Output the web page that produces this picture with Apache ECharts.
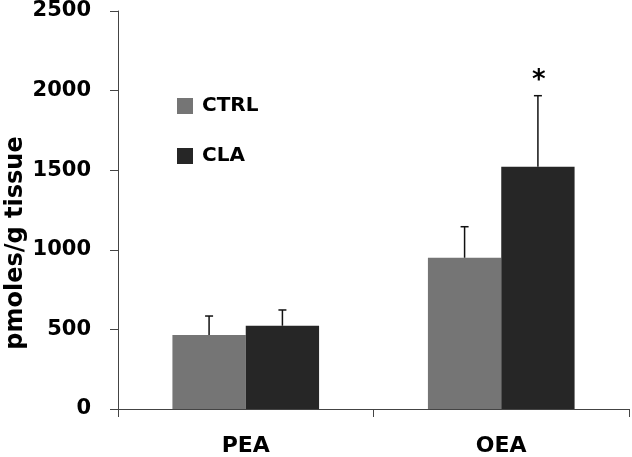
<!DOCTYPE html>
<html>
<head>
<meta charset="utf-8">
<script src="https://cdn.jsdelivr.net/npm/echarts@6/dist/echarts.min.js"></script>
<style>
html,body{margin:0;padding:0;background:#fff;}
#chart{width:632px;height:457px;}
</style>
</head>
<body>
<div id="chart"></div>
<script>
const categories = ['PEA', 'OEA'];
const seriesNames = ['CTRL', 'CLA'];
const ctrlMean = [465, 950];
const ctrlErr = [119, 195];
const claMean = [523, 1522];
const claErr = [99, 446];
const ctrlSig = ['', ''];
const claSig = ['', '*'];
const yMin = 0, yMax = 2500, yStep = 500;

const FONT = 'DejaVu Sans';
const BAR_FRAC = 0.287;
const colors = ['#757575', '#262626'];

function errorSeries(name, means, errs, sigs, side) {
  return {
    type: 'custom',
    name: name,
    silent: true,
    z: 5,
    encode: { x: 0, y: [1, 2] },
    data: means.map((m, i) => [i, m, m + errs[i]]),
    renderItem: function (params, api) {
      const i = api.value(0);
      const base = api.coord([i, api.value(1)]);
      const top = api.coord([i, api.value(2)]);
      const band = api.size([1, 0])[0];
      const x = base[0] + side * band * BAR_FRAC / 2;
      const style = { stroke: '#111', lineWidth: 1.5 };
      const children = [
        { type: 'line', shape: { x1: x, y1: base[1], x2: x, y2: top[1] }, style: style },
        { type: 'line', shape: { x1: x - 4, y1: top[1], x2: x + 4, y2: top[1] }, style: style }
      ];
      const sig = sigs[params.dataIndex];
      if (sig) {
        children.push({
          type: 'text',
          style: {
            text: sig, x: x + 1, y: top[1] - 1,
            align: 'center', verticalAlign: 'bottom',
            font: 'bold 26px "' + FONT + '"', fill: '#000'
          }
        });
      }
      return { type: 'group', children: children };
    }
  };
}

const chart = echarts.init(document.getElementById('chart'));
chart.setOption({
  animation: false,
  backgroundColor: '#fff',
  grid: { left: 118, right: 3, top: 11, bottom: 48, containLabel: false, outerBoundsMode: 'none' },
  legend: {
    data: seriesNames,
    orient: 'vertical',
    left: 177,
    top: 96,
    padding: 0,
    icon: 'rect',
    itemWidth: 16,
    itemHeight: 16,
    itemGap: 30,
    textStyle: { fontFamily: FONT, fontWeight: 'bold', fontSize: 20, color: '#000', padding: [0, 0, 0, 4] }
  },
  xAxis: {
    type: 'category',
    data: categories,
    axisLine: { lineStyle: { color: '#444', width: 1 } },
    axisTick: { show: true, length: 8, lineStyle: { color: '#444' } },
    axisLabel: { fontFamily: FONT, fontWeight: 'bold', fontSize: 22, color: '#000', margin: 26 }
  },
  yAxis: {
    type: 'value',
    min: yMin, max: yMax, interval: yStep,
    name: 'pmoles/g tissue',
    nameLocation: 'middle',
    nameGap: 90,
    nameMoveOverlap: false,
    nameRotate: 90,
    nameTextStyle: { fontFamily: FONT, fontWeight: 'bold', fontSize: 24, color: '#000', padding: [0, 66, 0, 0] },
    axisLine: { show: true, lineStyle: { color: '#444', width: 1 } },
    axisTick: { show: true, length: 8, lineStyle: { color: '#444' } },
    splitLine: { show: false },
    axisLabel: { fontFamily: FONT, fontWeight: 'bold', fontSize: 21, color: '#000', margin: 27, formatter: v => String(v) }
  },
  series: [
    { type: 'bar', name: seriesNames[0], data: ctrlMean, barWidth: (BAR_FRAC * 100) + '%', barGap: '0%', itemStyle: { color: colors[0] } },
    { type: 'bar', name: seriesNames[1], data: claMean, barWidth: (BAR_FRAC * 100) + '%', barGap: '0%', itemStyle: { color: colors[1] } },
    errorSeries('CTRL err', ctrlMean, ctrlErr, ctrlSig, -1),
    errorSeries('CLA err', claMean, claErr, claSig, 1)
  ]
});
</script>
</body>
</html>
